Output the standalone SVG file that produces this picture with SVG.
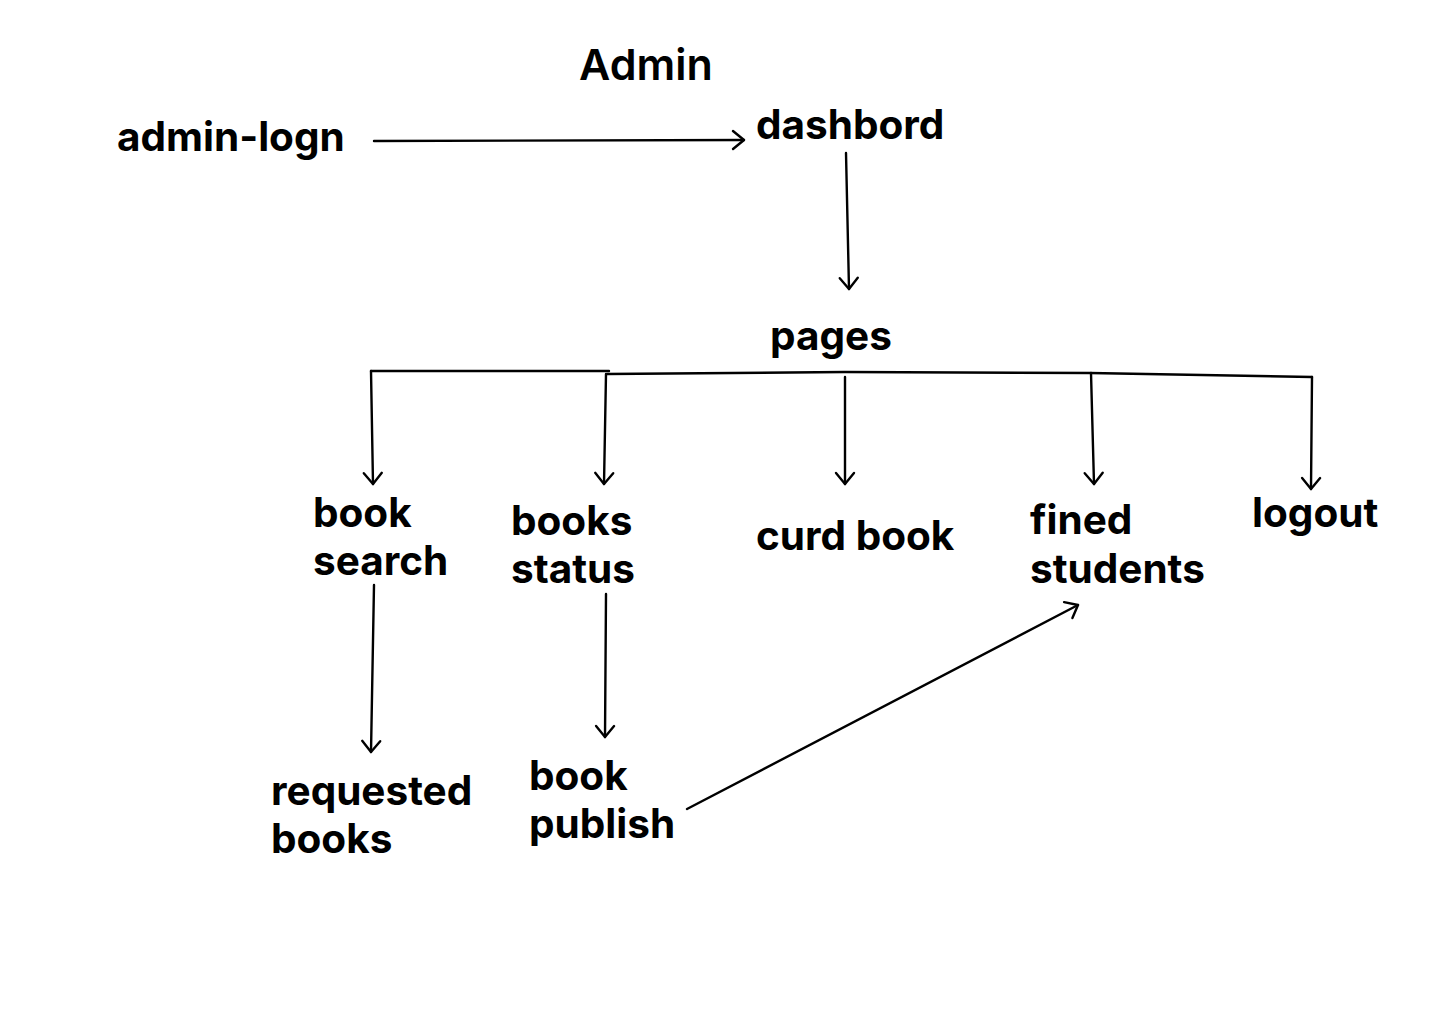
<svg xmlns="http://www.w3.org/2000/svg" width="1440" height="1024" viewBox="0 0 1440 1024">
<style>
text{font-family:Inter,"Liberation Sans",sans-serif;font-weight:700;font-size:40.5px;fill:#000}
.c{fill:none;stroke:#000;stroke-width:2.4;stroke-linecap:round}
</style>
<defs>
<marker id="ah" viewBox="0 0 24 24" refX="21" refY="12" markerWidth="24" markerHeight="24" markerUnits="userSpaceOnUse" orient="auto">
<path d="M10,3 L21,12 L10,21" fill="none" stroke="#000" stroke-width="2.4" stroke-linecap="round" stroke-linejoin="round"/>
</marker>
</defs>
<rect width="1440" height="1024" fill="#fff"/>
<g id="title"><text x="579" y="80" style="font-weight:600;font-size:43px">Admin</text></g>
<g id="admin-logn"><text x="117" y="151">admin-logn</text></g>
<g id="dashbord"><text x="756" y="139">dashbord</text></g>
<g id="pages"><text x="770" y="350">pages</text></g>
<g id="book-search"><text x="313" y="527">book</text><text x="313" y="575">search</text></g>
<g id="books-status"><text x="511" y="535">books</text><text x="511" y="583">status</text></g>
<g id="curd-book"><text x="756" y="550">curd book</text></g>
<g id="fined-students"><text x="1030" y="534">fined</text><text x="1030" y="583">students</text></g>
<g id="logout"><text x="1252" y="527">logout</text></g>
<g id="requested-books"><text x="271" y="805">requested</text><text x="271" y="853">books</text></g>
<g id="book-publish"><text x="529" y="790">book</text><text x="529" y="838">publish</text></g>
<g id="connectors">
<path class="c" d="M374,141 L744,140" marker-end="url(#ah)"/>
<path class="c" d="M846,153 L849,289" marker-end="url(#ah)"/>
<path class="c" d="M371,371 L609,371"/>
<path class="c" d="M607,374 L845,372 L1090,373 L1312,377"/>
<path class="c" d="M371,371 L373,484" marker-end="url(#ah)"/>
<path class="c" d="M606,374 L604,484" marker-end="url(#ah)"/>
<path class="c" d="M845,377 L845,484" marker-end="url(#ah)"/>
<path class="c" d="M1091,373 L1094,484" marker-end="url(#ah)"/>
<path class="c" d="M1312,377 L1311,489" marker-end="url(#ah)"/>
<path class="c" d="M374,585 L371,752" marker-end="url(#ah)"/>
<path class="c" d="M606,594 L605,737" marker-end="url(#ah)"/>
<path class="c" d="M687,809 L1078,605" marker-end="url(#ah)"/>
</g>
</svg>
